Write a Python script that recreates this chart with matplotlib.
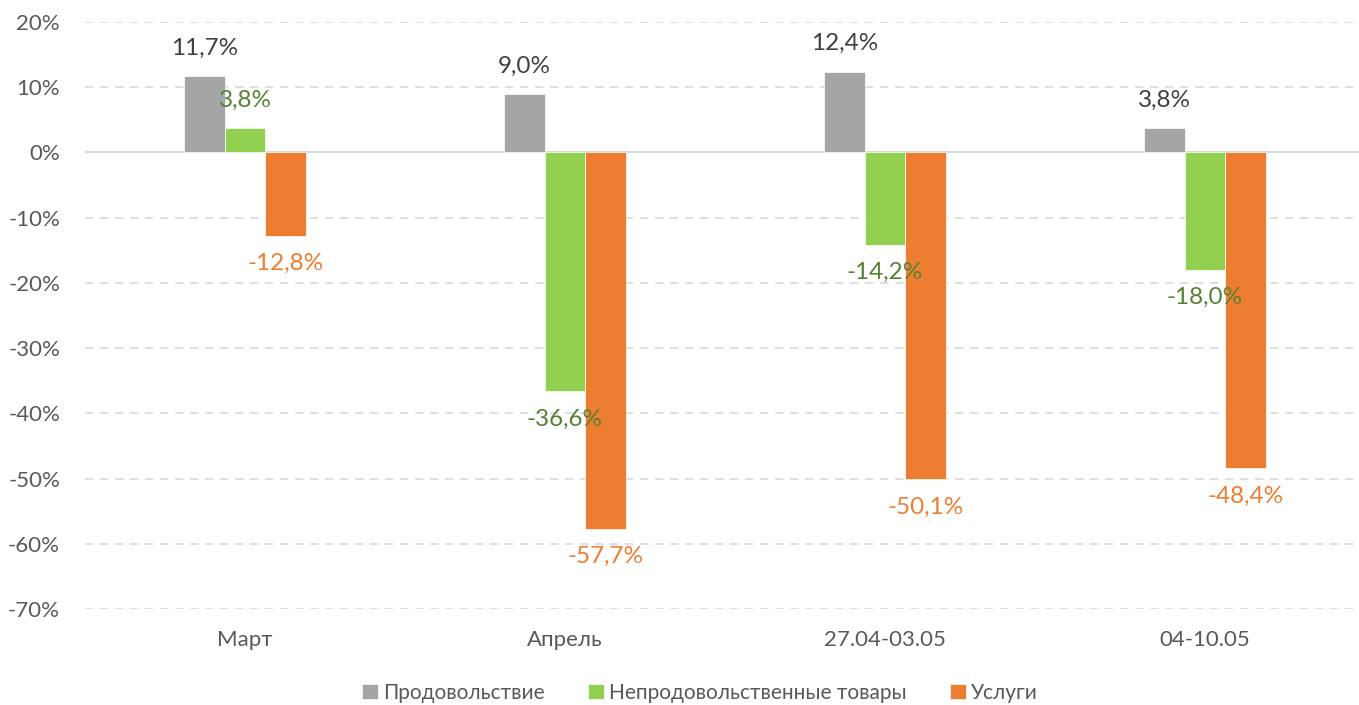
import matplotlib
matplotlib.use("Agg")
import matplotlib.pyplot as plt
import numpy as np

categories = ["Март", "Апрель", "27.04-03.05", "04-10.05"]
series_names = ["Продовольствие", "Непродовольственные товары", "Услуги"]
food = [11.7, 9.0, 12.4, 3.8]
nonfood = [3.8, -36.6, -14.2, -18.0]
services = [-12.8, -57.7, -50.1, -48.4]
yticks = [20, 10, 0, -10, -20, -30, -40, -50, -60, -70]

bar_colors = ["#A5A5A5", "#92D050", "#ED7D31"]
label_colors = ["#404040", "#548235", "#ED7D31"]

plt.rcParams['font.family'] = ['Lato', 'DejaVu Sans']

W, H = 1359, 705
fig = plt.figure(figsize=(W / 100, H / 100), dpi=100)
left, right = 85, 1359
top, bottom = 22, 609
ax = fig.add_axes([left / W, 1 - bottom / H, (right - left) / W, (bottom - top) / H])

x = np.arange(len(categories))
bw = 0.127
data = [food, nonfood, services]
for i, (vals, name) in enumerate(zip(data, series_names)):
    xs = x + (i - 1) * bw
    ax.bar(xs, vals, width=bw, color=bar_colors[i], label=name, zorder=3,
           edgecolor="white", linewidth=0.5)
    for xi, v in zip(xs, vals):
        off = 20 if v >= 0 else -20
        ax.annotate(f"{v:.1f}%".replace(".", ","), (xi, v), xytext=(0, off),
                    textcoords="offset points", ha="center", va="center",
                    fontsize=17.5, color=label_colors[i], zorder=4)

ax.set_xlim(-0.5, -0.5 + (right - left) / 320)
ax.set_ylim(-70, 20)
ax.set_yticks(yticks)
ax.set_yticklabels([f"{t}%" for t in yticks])
ax.set_xticks(x)
ax.set_xticklabels(categories)

for t in yticks:
    if t == 0:
        ax.axhline(0, color="#D9D9D9", linewidth=1.5, zorder=2)
    else:
        ax.axhline(t, color="#D9D9D9", linewidth=1.2, linestyle=(0, (5, 4)), zorder=1)

for s in ax.spines.values():
    s.set_visible(False)
ax.tick_params(axis="both", length=0, colors="#595959", labelsize=16)
ax.tick_params(axis="x", pad=15)
ax.tick_params(axis="y", pad=18)

leg = fig.legend(loc="center", bbox_to_anchor=(700 / W, 1 - 693 / H), ncol=3,
                 frameon=False, fontsize=15, handlelength=0.75, handleheight=0.75,
                 handletextpad=0.25, columnspacing=2.1)
for t in leg.get_texts():
    t.set_color("#595959")

fig.savefig("out.png", dpi=100)
